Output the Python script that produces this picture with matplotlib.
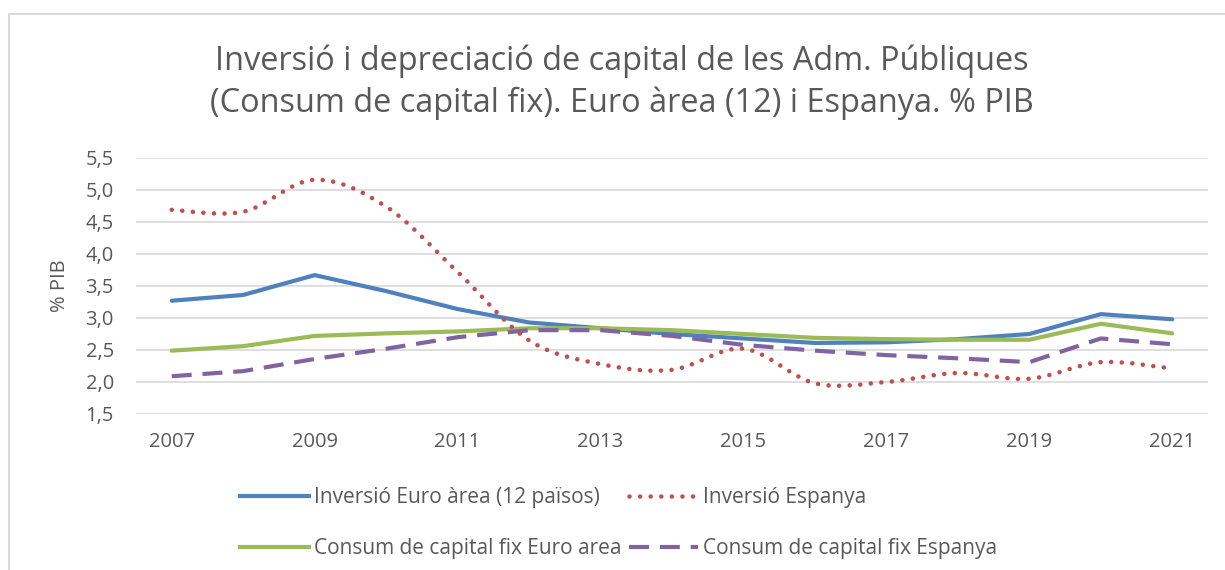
import matplotlib
matplotlib.use("Agg")
import matplotlib.pyplot as plt
from matplotlib.path import Path
from matplotlib.patches import PathPatch
from matplotlib.lines import Line2D
import numpy as np

plt.rcParams['font.family'] = ['Open Sans', 'DejaVu Sans']

years = [2007, 2008, 2009, 2010, 2011, 2012, 2013, 2014, 2015, 2016, 2017, 2018, 2019, 2020, 2021]
inv_euro = [3.27, 3.36, 3.67, 3.42, 3.14, 2.93, 2.84, 2.75, 2.68, 2.61, 2.62, 2.67, 2.75, 3.06, 2.98]
inv_esp = [4.69, 4.66, 5.16, 4.74, 3.72, 2.65, 2.28, 2.19, 2.52, 1.98, 2.00, 2.14, 2.05, 2.31, 2.21]
cons_euro = [2.49, 2.56, 2.72, 2.76, 2.79, 2.84, 2.84, 2.81, 2.75, 2.69, 2.67, 2.66, 2.66, 2.91, 2.76]
cons_esp = [2.09, 2.17, 2.36, 2.52, 2.70, 2.81, 2.81, 2.72, 2.58, 2.49, 2.42, 2.37, 2.31, 2.68, 2.59]

labels = ["Inversió Euro àrea (12 països)", "Inversió Espanya",
          "Consum de capital fix Euro area", "Consum de capital fix Espanya"]
yticks = [1.5, 2.0, 2.5, 3.0, 3.5, 4.0, 4.5, 5.0, 5.5]
title_lines = ["Inversió i depreciació de capital de les Adm. Públiques",
               "(Consum de capital fix). Euro àrea (12) i Espanya. % PIB"]

BLUE, RED, GREEN, PURPLE = "#4F81BD", "#C0504D", "#9BBB59", "#8064A2"
TXT = "#595959"
GRID = "#D9D9D9"

W, H = 1225, 570
fig = plt.figure(figsize=(W / 100, H / 100), dpi=100)
ax = fig.add_axes([136 / W, 1 - 414 / H, (1208 - 136) / W, (414 - 158) / H])

lw = 3.0
ax.plot(years, cons_euro, color=GREEN, lw=lw, solid_capstyle='round', zorder=3)
ax.plot(years, cons_esp, color=PURPLE, lw=lw, linestyle=(0, (4.8, 2.6)),
        dash_capstyle='butt', zorder=4)
ax.plot(years, inv_euro, color=BLUE, lw=lw, solid_capstyle='round', zorder=2)

# smoothed (Excel-like) dotted line for Inversió Espanya
x = np.asarray(years, dtype=float)
y = np.asarray(inv_esp, dtype=float)
pts = np.column_stack([x, y])
verts = [tuple(pts[0])]
codes = [Path.MOVETO]
n = len(pts)
for i in range(n - 1):
    p0 = pts[i - 1] if i > 0 else pts[i]
    p1 = pts[i]
    p2 = pts[i + 1]
    p3 = pts[i + 2] if i + 2 < n else pts[i + 1]
    c1 = p1 + (p2 - p0) / 6.0
    c2 = p2 - (p3 - p1) / 6.0
    verts += [tuple(c1), tuple(c2), tuple(p2)]
    codes += [Path.CURVE4, Path.CURVE4, Path.CURVE4]
red_patch = PathPatch(Path(verts, codes), fill=False, edgecolor=RED, lw=3.3,
                      linestyle=(0, (0.01, 2.3)), capstyle='round', zorder=5)
ax.add_patch(red_patch)

ax.set_xlim(2006.5, 2021.5)
ax.set_ylim(1.5, 5.5)
ax.set_yticks(yticks)
ax.set_yticklabels([f"{v:.1f}".replace(".", ",") for v in yticks])
ax.set_xticks(years[::2])
ax.set_xticklabels([str(v) for v in years[::2]])
ax.tick_params(axis='both', length=0, labelsize=14.5, labelcolor=TXT)
ax.tick_params(axis='x', pad=13)
ax.tick_params(axis='y', pad=16)
ax.grid(axis='y', color=GRID, lw=1.2)
ax.set_axisbelow(True)
for s in ax.spines.values():
    s.set_visible(False)

fig.text(60 / W, 1 - 286 / H, "% PIB", rotation=90, ha='center', va='center',
         fontsize=14.5, color=TXT)

fig.text(622 / W, 1 - 70 / H, title_lines[0], ha='center', va='baseline',
         fontsize=23.4, color=TXT)
fig.text(622 / W, 1 - 112 / H, title_lines[1], ha='center', va='baseline',
         fontsize=23.4, color=TXT)

# chart area border
fig.add_artist(Line2D([9 / W, 9 / W, 1], [0, 1 - 14 / H, 1 - 14 / H],
                      transform=fig.transFigure, color=GRID, lw=1.5))

handles = [
    Line2D([], [], color=BLUE, lw=lw),
    Line2D([], [], color=GREEN, lw=lw),
    Line2D([], [], color=RED, lw=3.3, linestyle=(0, (0.01, 2.3)), dash_capstyle='round'),
    Line2D([], [], color=PURPLE, lw=lw, linestyle=(0, (4.8, 2.6))),
]
leg_labels = [labels[0], labels[2], labels[1], labels[3]]
leg = fig.legend(handles, leg_labels, loc='upper left', bbox_to_anchor=(240 / W, 1 - 487 / H),
                 ncol=2, frameon=False, fontsize=15, handlelength=3.3,
                 handletextpad=0.25, columnspacing=0.35, labelspacing=1.45,
                 borderpad=0, borderaxespad=0)
for t in leg.get_texts():
    t.set_color(TXT)

fig.savefig("out.png", dpi=100)
